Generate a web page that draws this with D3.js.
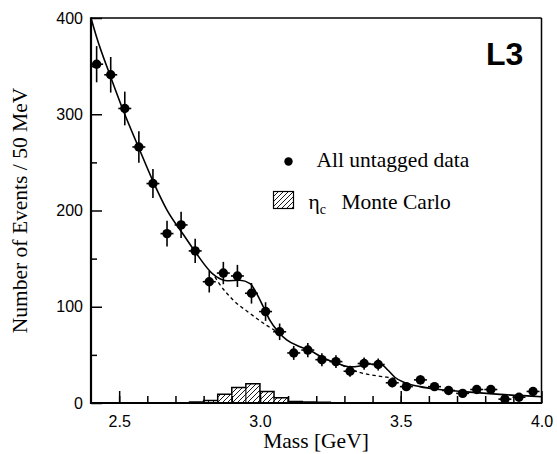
<!DOCTYPE html>
<html>
<head>
<meta charset="utf-8">
<script src="https://cdn.jsdelivr.net/npm/d3@7"></script>
<style>
  html, body { margin: 0; padding: 0; background: #fff; }
  svg { display: block; }
</style>
</head>
<body>
<svg id="chart" width="557" height="454"></svg>
<script>
// ---------------- data ----------------
const massCenters = [2.42, 2.47, 2.52, 2.57, 2.62, 2.67, 2.72, 2.77, 2.82, 2.87, 2.92, 2.97,
                     3.02, 3.07, 3.12, 3.17, 3.22, 3.27, 3.32, 3.37, 3.42, 3.47, 3.52, 3.57,
                     3.62, 3.67, 3.72, 3.77, 3.82, 3.87, 3.92, 3.97];
const eventCounts = [352, 341, 306, 266, 228, 176, 185, 158, 126, 135, 132, 114,
                     95, 74, 52, 55, 45, 43, 33, 41, 40, 21, 17, 24,
                     17, 13, 10, 14, 14, 4, 6, 12];
const eventErrors = [18.8, 18.5, 17.5, 16.3, 15.1, 13.3, 13.6, 12.6, 11.2, 11.6, 11.5, 10.7,
                     9.7, 8.6, 7.2, 7.4, 6.7, 6.6, 5.7, 6.4, 6.3, 4.6, 4.1, 4.9,
                     4.1, 3.6, 3.2, 3.7, 3.7, 2.0, 2.4, 3.5];
const binHalfWidth = 0.023;

// total fit (solid)
const fitMass  = [2.400, 2.420, 2.467, 2.517, 2.567, 2.624, 2.669, 2.728, 2.775, 2.829, 2.858, 2.882,
                  2.929, 2.965, 2.988, 3.012, 3.035, 3.065, 3.095, 3.142, 3.178, 3.227, 3.277, 3.320,
                  3.355, 3.380, 3.430, 3.455, 3.480, 3.515, 3.568, 3.638, 3.734, 3.852, 4.000];
const fitValue = [400, 380, 341, 302, 267, 228, 201, 175, 155, 135, 129, 127,
                  127.5, 124, 114, 100, 86, 74, 65.5, 58.5, 54.5, 46.5, 41, 37.5,
                  38.5, 40.5, 40, 34, 26.5, 21, 17, 14, 11.6, 9, 6.5];

// background under the peaks (dashed)
const bg1Mass  = [2.840, 2.858, 2.905, 2.965, 3.022, 3.060, 3.080];
const bg1Value = [131, 123, 107, 93, 81, 74, 69.7];
const bg2Mass  = [3.290, 3.340, 3.380, 3.420, 3.450, 3.490];
const bg2Value = [39.5, 33, 30, 28, 26.8, 25];

// eta_c Monte Carlo histogram
const mcEdges  = [2.75, 2.80, 2.85, 2.90, 2.95, 3.00, 3.05, 3.10, 3.15, 3.20, 3.25];
const mcCounts = [1, 2.5, 9, 16, 20, 12, 5.5, 1.5, 1, 0.8];

const xMajorTicks = [2.5, 3.0, 3.5, 4.0];
const xMinorTicks = [2.5, 2.6, 2.7, 2.8, 2.9, 3.0, 3.1, 3.2, 3.3, 3.4, 3.5, 3.6, 3.7, 3.8, 3.9];
const yMajorTicks = [0, 100, 200, 300, 400];
const yMinorTicks = [50, 150, 250, 350];

// ---------------- drawing ----------------
const serif = "'Liberation Serif', 'Times New Roman', serif";
const sans  = "'Liberation Sans', Arial, Helvetica, sans-serif";

const svg = d3.select("#chart");
const L = 91, R = 541.5, T = 18, B = 403;
const x = d3.scaleLinear().domain([2.4, 4.0]).range([L, R]);
const y = d3.scaleLinear().domain([0, 400]).range([B, T]);

// hatch pattern
const defs = svg.append("defs");
const pat = defs.append("pattern")
  .attr("id", "hatch").attr("patternUnits", "userSpaceOnUse")
  .attr("width", 5).attr("height", 5);
pat.append("path").attr("d", "M-1,6 L6,-1 M-1,1 L1,-1 M4,6 L6,4")
  .attr("stroke", "#000").attr("stroke-width", 0.9);

// MC histogram
const histPts = [];
mcCounts.forEach((c, i) => {
  histPts.push([x(mcEdges[i]), y(c)]);
  histPts.push([x(mcEdges[i + 1]), y(c)]);
});
const histArea = [[x(mcEdges[0]), y(0)], ...histPts, [x(mcEdges[mcEdges.length - 1]), y(0)]];
svg.append("path")
  .attr("d", d3.line()(histArea) + "Z")
  .attr("fill", "url(#hatch)")
  .attr("stroke", "#000").attr("stroke-width", 1.5);
// inner bin separators
mcCounts.forEach((c, i) => {
  if (i === 0) return;
  const h = Math.min(c, mcCounts[i - 1]);
  svg.append("line")
    .attr("x1", x(mcEdges[i])).attr("x2", x(mcEdges[i]))
    .attr("y1", y(0)).attr("y2", y(h))
    .attr("stroke", "#000").attr("stroke-width", 1.1);
});

// curves
const lineGen = d3.line().x(d => x(d[0])).y(d => y(d[1])).curve(d3.curveMonotoneX);
svg.append("path")
  .attr("d", lineGen(fitMass.map((m, i) => [m, fitValue[i]])))
  .attr("fill", "none").attr("stroke", "#000").attr("stroke-width", 1.6);
[[bg1Mass, bg1Value], [bg2Mass, bg2Value]].forEach(([ms, vs]) => {
  svg.append("path")
    .attr("d", lineGen(ms.map((m, i) => [m, vs[i]])))
    .attr("fill", "none").attr("stroke", "#000").attr("stroke-width", 1.3)
    .attr("stroke-dasharray", "3.5,3");
});

// data points with error bars
const pts = svg.append("g");
massCenters.forEach((m, i) => {
  const v = eventCounts[i], e = eventErrors[i];
  pts.append("line")
    .attr("x1", x(m)).attr("x2", x(m))
    .attr("y1", y(Math.max(v - e, 0))).attr("y2", y(v + e))
    .attr("stroke", "#000").attr("stroke-width", 1.6);
  pts.append("line")
    .attr("x1", x(m - binHalfWidth)).attr("x2", x(m + binHalfWidth))
    .attr("y1", y(v)).attr("y2", y(v))
    .attr("stroke", "#000").attr("stroke-width", 1.6);
  pts.append("circle")
    .attr("cx", x(m)).attr("cy", y(v)).attr("r", 4.7)
    .attr("fill", "#000");
});

// axes
const xMinor = svg.append("g").attr("transform", `translate(0,${B})`)
  .call(d3.axisBottom(x).tickValues(xMinorTicks).tickSize(-7).tickFormat(""));
const xMajor = svg.append("g").attr("transform", `translate(0,${B})`)
  .call(d3.axisBottom(x).tickValues(xMajorTicks).tickSize(-12).tickPadding(12.2)
        .tickFormat(d3.format(".1f")));
const yMinor = svg.append("g").attr("transform", `translate(${L},0)`)
  .call(d3.axisLeft(y).tickValues(yMinorTicks).tickSize(-6).tickFormat(""));
const yMajor = svg.append("g").attr("transform", `translate(${L},0)`)
  .call(d3.axisLeft(y).tickValues(yMajorTicks).tickSize(-11).tickPadding(8)
        .tickFormat(d3.format("d")));
[xMinor, xMajor, yMinor, yMajor].forEach(g => {
  g.select(".domain").remove();
  g.selectAll(".tick line").attr("stroke", "#000").attr("stroke-width", 1.5);
  g.selectAll("text").attr("fill", "#000").style("font-family", sans).style("font-size", "16px");
});

// frame
svg.append("line").attr("x1", L).attr("x2", R).attr("y1", T).attr("y2", T)
  .attr("stroke", "#000").attr("stroke-width", 1.5);
svg.append("line").attr("x1", R).attr("x2", R).attr("y1", T).attr("y2", B)
  .attr("stroke", "#000").attr("stroke-width", 1.5);
svg.append("line").attr("x1", L).attr("x2", L).attr("y1", T - 0.75).attr("y2", B + 1)
  .attr("stroke", "#000").attr("stroke-width", 2.2);
svg.append("line").attr("x1", L - 1).attr("x2", R + 0.75).attr("y1", B).attr("y2", B)
  .attr("stroke", "#000").attr("stroke-width", 2.2);

// axis titles
svg.append("text")
  .attr("x", 316).attr("y", 448)
  .attr("text-anchor", "middle")
  .style("font-family", serif).style("font-size", "21.5px")
  .text("Mass [GeV]");
svg.append("text")
  .attr("transform", `translate(27,${(T + B) / 2}) rotate(-90)`)
  .attr("text-anchor", "middle")
  .style("font-family", serif).style("font-size", "21.5px")
  .text("Number of Events / 50 MeV");

// L3 label
svg.append("text")
  .attr("x", 486).attr("y", 65)
  .style("font-family", sans).style("font-size", "32px").style("font-weight", "bold")
  .text("L3");

// legend
svg.append("circle").attr("cx", 288.5).attr("cy", 161.5).attr("r", 4.2).attr("fill", "#000");
svg.append("text")
  .attr("x", 316.5).attr("y", 167)
  .style("font-family", serif).style("font-size", "21.5px")
  .text("All untagged data");
svg.append("rect")
  .attr("x", 273.5).attr("y", 191.5).attr("width", 20).attr("height", 17)
  .attr("fill", "url(#hatch)").attr("stroke", "#000").attr("stroke-width", 1.2);
const lt = svg.append("text")
  .attr("x", 308.5).attr("y", 208.5)
  .style("font-family", serif).style("font-size", "21.5px");
lt.append("tspan").text("η");
lt.append("tspan").attr("dy", 5).style("font-size", "14px").text("c");
lt.append("tspan").attr("dy", -5).attr("x", 341.5).text("Monte Carlo");
</script>
</body>
</html>
